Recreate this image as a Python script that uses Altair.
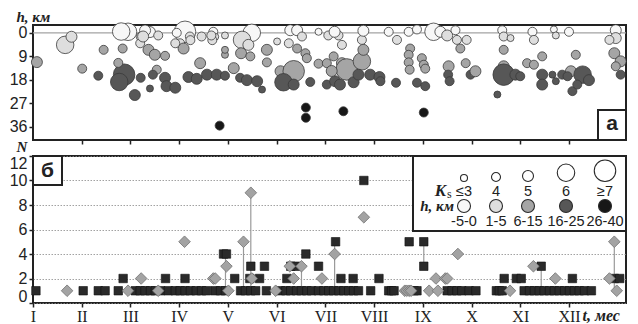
import json
import altair as alt
import pandas as pd

# ---------------- data ----------------
# upper panel: t (months from 1 Jan), h (km), K class
top_t = [0.08, 0.66, 0.79, 1.01, 1.45, 1.34, 1.84, 1.95, 1.87, 1.77, 2.09, 1.75, 2.21, 2.20, 2.40,
         2.57, 2.37, 2.50, 2.71, 2.54, 2.46, 2.21, 2.40, 2.71, 2.74, 2.92, 3.12, 3.02, 3.09, 3.22,
         2.95, 3.46, 3.43, 3.19, 3.36, 3.57, 3.77, 3.94, 3.70, 3.74, 3.68, 3.83, 3.94, 3.94, 4.12,
         3.94, 4.25, 4.39, 4.60, 4.49, 4.29, 4.42, 4.27, 4.46, 4.80, 4.80, 4.70, 5.01, 5.08, 5.28,
         5.35, 5.14, 5.35, 5.69, 5.86, 5.86, 5.28, 5.42, 5.52, 5.25, 5.42, 5.59, 5.62, 5.60, 5.60,
         6.06, 6.27, 6.19, 6.34, 6.17, 6.34, 6.44, 6.75, 6.78, 6.75, 6.78, 6.03, 6.20, 6.30, 6.58,
         6.68, 6.92, 7.11, 7.13, 6.37, 7.30, 7.47, 7.71, 7.88, 7.74, 7.71, 7.71, 7.73, 7.98, 8.02,
         8.05, 7.45, 7.88, 8.05, 8.02, 8.22, 8.36, 8.50, 8.67, 8.70, 8.90, 8.53, 8.52, 8.55, 8.77,
         8.88, 8.98, 9.08, 9.63, 9.66, 9.80, 9.66, 9.66, 9.66, 9.90, 10.00, 9.53, 10.14, 10.28, 10.45,
         10.25, 10.28, 10.45, 10.66, 10.45, 10.73, 10.69, 10.73, 11.00, 11.14, 11.04, 10.86, 10.97, 11.28, 11.41,
         11.07, 11.17, 11.96, 11.96, 11.93, 12.06, 11.96, 12.06, 11.83, 1.81, 2.30, 2.26, 2.92, 3.23, 3.66,
         6.03, 6.13]
top_h = [11.2, 4.6, 1.5, 13.7, 6.5, 16.4, 6.0, -0.4, 16.0, 18.8, 23.8, 11.5, 1.5, 4.0, -0.3,
         1.0, 6.5, 8.4, 8.8, 14.1, 16.0, 17.2, 21.3, 17.2, 20.4, 21.0, -0.4, 4.0, 6.0, 1.4,
         0.0, 1.4, 11.6, 16.9, 17.6, 16.0, 16.0, 16.4, -0.4, 1.5, 2.8, 35.5, 8.4, 6.5, 13.5,
         1.0, 17.2, 18.1, 18.5, 0.0, 2.7, 4.6, 7.8, 9.0, 6.5, 11.3, 21.7, 3.3, 14.7, 13.5,
         14.7, 18.9, 19.8, 18.8, 11.8, -0.4, -1.0, -1.0, 1.4, 4.0, 6.0, 7.8, 9.7, 28.6, 32.5,
         1.0, 1.0, -0.4, 4.6, 9.0, 11.6, 14.0, 10.9, 6.5, 2.7, -0.8, 19.8, 18.5, 19.8, 18.9,
         16.0, 16.0, 16.9, 18.5, 30.0, -0.4, 2.7, -0.4, -1.3, 6.0, 8.4, 11.3, 14.1, 9.7, 12.2,
         13.7, 19.1, 19.1, 20.4, 30.5, -0.4, -0.4, 1.0, -1.0, 2.7, 2.7, 12.8, 16.0, 18.5, 6.0,
         11.6, 16.0, 14.7, -1.0, 1.4, 2.0, 6.5, 12.8, 16.0, 16.0, 16.6, 23.6, 11.6, 12.2, 9.0,
         -0.4, 2.7, 16.0, 16.0, 19.8, 18.5, -1.3, 1.0, -0.4, 8.4, 14.7, 16.0, 16.6, 16.0, 18.1,
         22.3, 19.8, -1.0, 2.0, 7.8, 10.9, 12.8, 16.0, 2.7, -0.5, -0.9, 1.4, 4.0, 2.8, 1.0,
         11.6, 14.6]
top_k = [5, 6, 5, 4, 4, 4, 4, 6, 7, 6, 5, 4, 4, 4, 5,
         4, 5, 5, 4, 4, 4, 4, 3, 5, 5, 5, 7, 4, 5, 4,
         4, 4, 5, 5, 5, 5, 5, 4, 4, 3, 4, 4, 3, 3, 5,
         3, 4, 5, 5, 6, 6, 5, 5, 4, 5, 4, 3, 3, 5, 5,
         7, 6, 5, 4, 4, 3, 5, 5, 4, 4, 4, 4, 4, 4, 4,
         4, 4, 5, 4, 4, 5, 7, 6, 5, 4, 5, 4, 5, 5, 5,
         5, 5, 5, 4, 4, 4, 4, 4, 4, 4, 4, 4, 4, 4, 4,
         4, 4, 4, 4, 4, 6, 5, 5, 4, 4, 4, 5, 4, 4, 4,
         4, 4, 5, 4, 4, 3, 4, 5, 7, 5, 4, 3, 4, 4, 4,
         4, 4, 5, 3, 5, 3, 3, 3, 4, 4, 5, 4, 4, 6, 5,
         4, 4, 5, 5, 5, 5, 4, 4, 4, 6, 5, 5, 4, 4, 4,
         4, 5]

# lower panel: squares and diamonds (t, N)
sq_t = [0.06, 1.03, 1.34, 1.48, 1.75, 2.10, 2.20, 2.30, 2.41, 2.51, 2.62, 2.78, 2.92, 3.02, 3.12,
        3.23, 3.35, 3.46, 3.56, 3.74, 3.85, 3.95, 4.26, 4.36, 4.47, 4.57, 4.79, 5.08, 5.19, 5.29,
        5.41, 5.51, 5.62, 5.72, 5.86, 5.97, 6.07, 6.17, 6.28, 6.38, 6.48, 6.58, 6.68, 6.93, 7.30,
        7.36, 7.41, 7.82, 7.88, 8.50, 8.60, 8.70, 8.80, 8.95, 9.09, 9.51, 9.57, 9.63, 10.08, 10.19,
        10.29, 10.39, 10.49, 10.60, 10.70, 10.80, 10.91, 11.01, 11.11, 11.21, 11.32, 11.46,
        1.85, 2.72, 3.12, 4.14, 4.45, 4.65, 5.21, 6.32, 6.57, 7.10, 9.67, 9.92, 10.02, 11.07, 11.93, 12.04,
        4.47, 4.75, 5.29, 5.39, 5.86, 8.02, 10.43,
        3.91, 3.97, 5.60,
        6.21, 7.72, 8.02,
        6.79]
sq_n = [1] * 72 + [2] * 16 + [3] * 7 + [4] * 3 + [5] * 3 + [10]

dm_t = [0.70, 1.95, 2.57, 4.01, 4.98, 7.63, 7.67, 7.72, 7.76, 8.13, 8.31, 9.79, 11.98,
        2.22, 3.70, 3.74, 4.49, 5.35, 5.93, 8.27, 8.46, 8.50, 10.72, 11.83,
        3.97, 5.27, 5.51, 10.27,
        6.19, 8.72,
        3.11, 4.32, 11.93,
        6.79,
        4.47]
dm_n = [1] * 13 + [2] * 11 + [3] * 4 + [4] * 2 + [5] * 3 + [7] + [9]

link_t = [3.95, 4.32, 4.47, 5.51, 6.19, 8.02, 10.43, 11.93]
link_lo = [1, 1, 1, 1, 1, 3, 1, 1]
link_hi = [4, 5, 9, 3, 5, 5, 3, 5]

months = ["I", "II", "III", "IV", "V", "VI", "VII", "VIII", "IX", "X", "XI", "XII"]
ks_labels = ["≤3", "4", "5", "6", "≥7"]
h_labels = ["-5-0", "1-5", "6-15", "16-25", "26-40"]
k_classes = [3, 4, 5, 6, 7]

# ---------------- styles ----------------
depth_bins = [0.5, 5.5, 15.5, 25.5]
depth_colors = ["#f7f7f7", "#dedede", "#a5a5a5", "#575757", "#171717"]
k_diam = [7, 9, 11, 17.5, 21.5]
INK = "#222222"
SANS = "Liberation Sans, Arial, sans-serif"
SERIF = "Liberation Serif, serif"
W, H1, H2 = 593, 115, 147
X_DOM = [0, 12.17]

top_df = pd.DataFrame({"t": top_t, "h": top_h, "k": top_k})
sq_df = pd.DataFrame({"t": sq_t, "n": sq_n})
dm_df = pd.DataFrame({"t": dm_t, "n": dm_n})
link_df = pd.DataFrame({"t": link_t, "n": link_lo, "n2": link_hi})

# ---------------- upper panel ----------------
x_top = alt.X("t:Q", scale=alt.Scale(domain=X_DOM, nice=False, zero=False),
              axis=alt.Axis(values=list(range(1, 12)), labels=False, title=None, tickSize=4,
                            domain=False, grid=False))
y_top = alt.Y("h:Q", scale=alt.Scale(domain=[-3, 41], reverse=True, nice=False, zero=False),
              axis=alt.Axis(values=[0, 9, 18, 27, 36], title="h, км", titleAngle=0,
                            titleAlign="left", titleBaseline="alphabetic", titleX=-17, titleY=-4,
                            domain=False, grid=False, tickSize=4, labelPadding=2))

zero_rule = alt.Chart(pd.DataFrame({"h": [0]})).mark_rule(color="#a3a3a3", strokeWidth=1.2).encode(y=y_top)

bubbles = alt.Chart(top_df).mark_circle(opacity=1, stroke="#3a3a3a", strokeWidth=0.8).encode(
    x=x_top, y=y_top,
    color=alt.Color("h:Q", scale=alt.Scale(type="threshold", domain=depth_bins, range=depth_colors),
                    legend=None),
    size=alt.Size("k:Q", scale=alt.Scale(type="linear", domain=k_classes,
                                         range=[d * d for d in k_diam], zero=False, nice=False),
                  legend=None),
)

tag_a = pd.DataFrame({"tag": ["а"]})
tag_a_box = alt.Chart(tag_a).mark_rect(fill="white", stroke=INK, strokeWidth=2).encode(
    x=alt.value(565), x2=alt.value(593), y=alt.value(85), y2=alt.value(115))
tag_a_txt = alt.Chart(tag_a).mark_text(font="Liberation Sans", fontSize=21, fontWeight="bold",
                                       color=INK, baseline="middle").encode(
    x=alt.value(579), y=alt.value(99), text="tag:N")

top = alt.layer(zero_rule, bubbles, tag_a_box, tag_a_txt).properties(width=W, height=H1)

# ---------------- lower panel ----------------
month_expr = json.dumps(months).replace('"', "'") + "[datum.value]"
x_bot = alt.X("t:Q", scale=alt.Scale(domain=X_DOM, nice=False, zero=False),
              axis=alt.Axis(values=list(range(12)), labelExpr=month_expr, labelFont=SERIF,
                            labelFontSize=16, labelPadding=1, labelFlush=False, tickSize=4,
                            domain=False, grid=False,
                            title="t, мес", titleAngle=0, titleAlign="left", titleBaseline="alphabetic",
                            titleX=549, titleY=17, titleFontSize=16))
y_bot = alt.Y("n:Q", scale=alt.Scale(domain=[0, 12], nice=False, zero=False),
              axis=alt.Axis(values=list(range(0, 13, 2)), grid=True, gridDash=[1.5, 1.5],
                            gridColor="#8a8a8a", gridWidth=0.8, domain=False, tickSize=4, labelPadding=2,
                            labelFlush=True, labelFlushOffset=1,
                            title="N", titleAngle=0, titleAlign="left", titleBaseline="alphabetic",
                            titleX=-17, titleY=-5))

links = alt.Chart(link_df).mark_rule(color="#9a9a9a", strokeWidth=1.2).encode(x=x_bot, y=y_bot, y2="n2:Q")
squares = alt.Chart(sq_df).mark_square(size=72, color="#2a2a2a", stroke="#111111", strokeWidth=0.6,
                                       opacity=1).encode(x=x_bot, y=y_bot)
diamonds = alt.Chart(dm_df).mark_point(shape="diamond", filled=True, size=135, fill="#a3a3a3",
                                       stroke="#707070", strokeWidth=0.8, opacity=1).encode(x=x_bot, y=y_bot)

tag_b = pd.DataFrame({"tag": ["б"]})
tag_b_box = alt.Chart(tag_b).mark_rect(fill="white", stroke=INK, strokeWidth=2).encode(
    x=alt.value(0), x2=alt.value(29), y=alt.value(0), y2=alt.value(29))
tag_b_txt = alt.Chart(tag_b).mark_text(font="Liberation Sans", fontSize=21, fontWeight="bold",
                                       color=INK, baseline="middle").encode(
    x=alt.value(14.5), y=alt.value(15), text="tag:N")

# legend (drawn in pixel space of the lower panel)
leg_x = [431, 463, 495, 533, 572]
leg_box = alt.Chart(pd.DataFrame({"a": [0]})).mark_rect(fill="white", stroke=INK, strokeWidth=2).encode(
    x=alt.value(380), x2=alt.value(593), y=alt.value(0), y2=alt.value(75))
leg_k = pd.DataFrame({"lbl": ks_labels, "px": leg_x,
                      "py": [25.5 - d / 2 for d in k_diam], "sz": [d * d for d in k_diam],
                      "ly": [40] * 5})
leg_h = pd.DataFrame({"lbl": h_labels, "px": leg_x, "py": [50] * 5, "sz": [169] * 5,
                      "ly": [70] * 5, "col": depth_colors})
px = alt.X("px:Q", scale=None, axis=None)
k_circ = alt.Chart(leg_k).mark_point(shape="circle", filled=True, fill="white", stroke="#2a2a2a",
                                     strokeWidth=1.1, opacity=1).encode(
    x=px, y=alt.Y("py:Q", scale=None, axis=None), size=alt.Size("sz:Q", scale=None, legend=None))
k_lbl = alt.Chart(leg_k).mark_text(font=SANS, fontSize=14.5, color=INK, baseline="alphabetic").encode(
    x=px, y=alt.Y("ly:Q", scale=None, axis=None), text="lbl:N")
h_circ = alt.Chart(leg_h).mark_point(shape="circle", filled=True, stroke="#2a2a2a", strokeWidth=1.1,
                                     opacity=1).encode(
    x=px, y=alt.Y("py:Q", scale=None, axis=None), size=alt.Size("sz:Q", scale=None, legend=None),
    fill=alt.Fill("col:N", scale=None, legend=None))
h_lbl = alt.Chart(leg_h).mark_text(font=SANS, fontSize=14.5, color=INK, baseline="alphabetic").encode(
    x=px, y=alt.Y("ly:Q", scale=None, axis=None), text="lbl:N")
leg_title = pd.DataFrame({"a": ["K", "s", "h, км"]})
k_title = alt.Chart(leg_title).transform_filter("datum.a == 'K'").mark_text(
    font=SERIF, fontSize=17, fontStyle="italic", fontWeight="bold", color=INK, align="right",
    baseline="alphabetic").encode(x=alt.value(413), y=alt.value(40), text="a:N")
s_title = alt.Chart(leg_title).transform_filter("datum.a == 's'").mark_text(
    font=SERIF, fontSize=12, color=INK, align="left", baseline="alphabetic").encode(
    x=alt.value(414), y=alt.value(42), text="a:N")
h_title = alt.Chart(leg_title).transform_filter("datum.a == 'h, км'").mark_text(
    font=SERIF, fontSize=15, fontStyle="italic", fontWeight="bold", color=INK, align="right",
    baseline="alphabetic").encode(x=alt.value(421), y=alt.value(55), text="a:N")

bottom = alt.layer(links, squares, diamonds, tag_b_box, tag_b_txt, leg_box, k_circ, k_lbl,
                   h_circ, h_lbl, k_title, s_title, h_title).properties(width=W, height=H2)

chart = alt.vconcat(top, bottom, spacing=16, bounds="flush").properties(
    padding={"left": 0, "top": 0, "right": 0, "bottom": 0}
).configure_view(stroke=INK, strokeWidth=2).configure_axis(
    labelFont=SANS, labelFontSize=16, labelColor=INK, tickColor=INK, tickWidth=1.5,
    titleFont=SERIF, titleFontSize=15, titleFontStyle="italic", titleFontWeight="bold", titleColor=INK
)

chart.save("out.html", embed_options={"renderer": "svg", "actions": False})
